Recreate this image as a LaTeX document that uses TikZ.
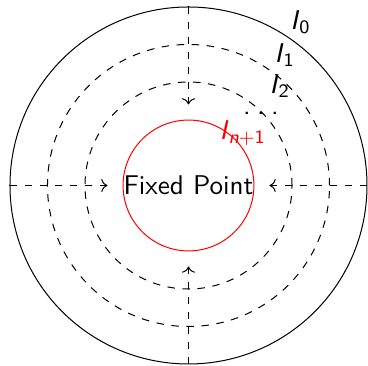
\documentclass[tikz,border=0pt]{standalone}
\usepackage{tikz}
\usepackage{xcolor}
\usetikzlibrary{arrows.meta, positioning, calc}

\begin{document}
\begin{tikzpicture}[
    level/.style={
        circle, draw=black, dashed, inner sep=0pt
    },
    fixed/.style={
        circle, draw=red, inner sep=0pt,
        font=\sffamily\fontsize{10.8}{13}\selectfont
    },
    flow/.style={
        ->, dashed, shorten >=6pt
    },
    lbl/.style={font=\sffamily\fontsize{10.8}{13}\selectfont, inner sep=1pt}
]
\useasboundingbox (-2.64,-2.528) rectangle (2.514,2.598);

%% ── Nested sets ──────────────────────────────────────────────────────────────
\node[circle, draw=black, inner sep=0pt, minimum size=5cm] (outer) at (0,0) {};
\node[level, minimum size=3.95cm] (setA) at (0,0) {};
\node[level, minimum size=2.9cm] (setB) at (0,0) {};
\node[fixed] (fp) at (0,0) {Fixed Point};

%% ── Contraction arrows ───────────────────────────────────────────────────────
\draw[flow] (outer.north) -- (fp);
\draw[flow] (outer.south) -- (fp);
\draw[flow] (outer.west)  -- (fp);
\draw[flow] (outer.east)  -- (fp);

%% ── Set labels ───────────────────────────────────────────────────────────────
\node[lbl] (lab0) at (1.57,2.29) {\textit{I}\textsubscript{0}};
\node[lbl] (lab1) at (1.35,1.83) {\textit{I}\textsubscript{1}};
\node[lbl] (lab2) at (1.28,1.39) {\textit{I}\textsubscript{2}};
\node[lbl, inner sep=0pt, anchor=base] (labd) at (1.015,1.0) {.\kern2.6pt.\kern2.6pt.};
\node[lbl, color=red] (labn) at (0.76,0.74) {\textit{I}\textsubscript{\textit{n}+1}};

\end{tikzpicture}
\end{document}
